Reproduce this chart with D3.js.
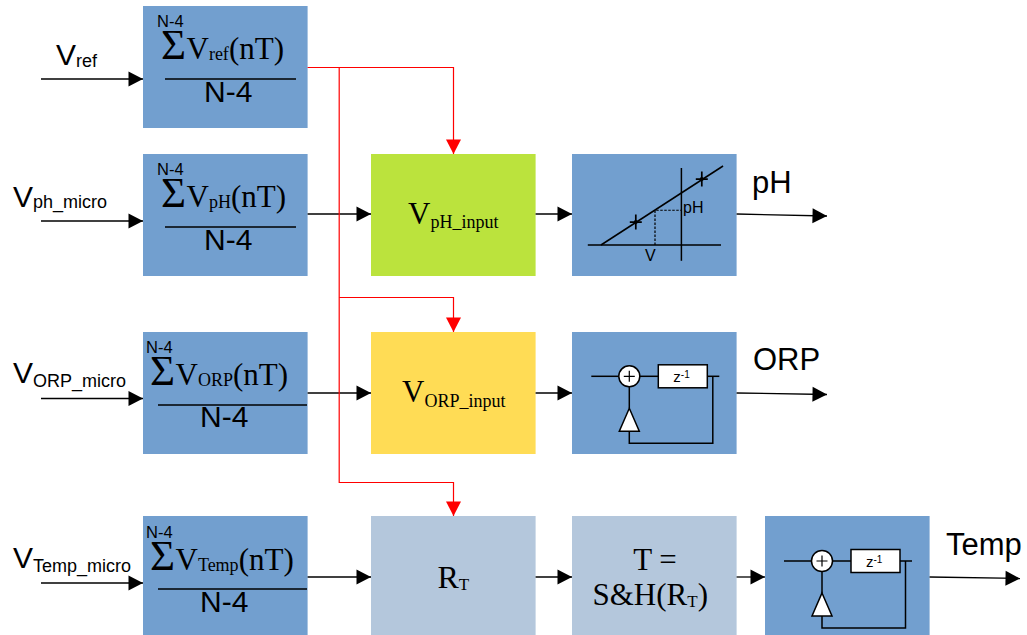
<!DOCTYPE html>
<html>
<head>
<meta charset="utf-8">
<script src="https://cdn.jsdelivr.net/npm/d3@7"></script>
<style>
    html, body { margin: 0; padding: 0; background: #fff; }
    svg { display: block; }
    .sans { font-family: "Liberation Sans", Arial, sans-serif; }
    .serif { font-family: "Liberation Serif", "Times New Roman", serif; }
</style>
</head>
<body>
<div id="diagram"></div>
<script>
// names of the grid lines the blocks sit on
const columns = ["average", "input", "process", "output"];
const rows = ["ref", "ph", "orp", "temp"];

// block: column, row, kind
const blockColumn = ["average", "average", "average", "average", "input", "input", "input", "process", "process", "process", "output"];
const blockRow = ["ref", "ph", "orp", "temp", "ph", "orp", "temp", "ph", "orp", "temp", "temp"];
const blockKind = ["dsp", "dsp", "dsp", "dsp", "ph", "orp", "calc", "dsp", "dsp", "calc", "dsp"];

// text
const inputNames = ["ref", "ph_micro", "ORP_micro", "Temp_micro"];
const averageNames = ["ref", "pH", "ORP", "Temp"];
const inputBlockNames = ["pH_input", "ORP_input"];
const outputNames = ["pH", "ORP", "Temp"];
const windowLabel = "N-4";

// calibration inset, in its own units
const calibrationLine = [[0, 0], [10.17, 10]];
const calibrationPoints = [[2.9, 2.9], [8.4, 8.35]];
const readingPoint = [4.5, 4.4];

const width = 1027, height = 635;
const svg = d3.select("#diagram").append("svg").attr("width", width).attr("height", height);

const x = d3.scaleOrdinal(columns, [143, 371, 572, 765]);
const y = d3.scaleOrdinal(rows, [6, 154, 332, 516]);
const blockFill = d3.scaleOrdinal(["dsp", "ph", "orp", "calc"], ["#729fcf", "#bbe33d", "#ffdc55", "#b4c7dc"]);
const blockWidth = 164.6, blockHeight = 122;

const indices = d3.range(blockColumn.length);

svg.append("g").selectAll("rect")
    .data(indices)
    .enter()
    .append("rect")
    .attr("x", (i) => x(blockColumn[i]))
    .attr("y", (i) => y(blockRow[i]))
    .attr("width", blockWidth)
    .attr("height", blockHeight)
    .attr("fill", (i) => blockFill(blockKind[i]));

const wires = svg.append("g").attr("fill", "none");
const heads = svg.append("g");
const labels = svg.append("g");
const line = d3.line();

function arrow(points, color, strokeWidth) {
    wires.append("path")
        .attr("d", line(points))
        .attr("stroke", color)
        .attr("stroke-width", strokeWidth);
    const [x1, y1] = points[points.length - 2];
    const [x2, y2] = points[points.length - 1];
    const angle = (Math.atan2(y2 - y1, x2 - x1) * 180) / Math.PI;
    heads.append("path")
        .attr("d", "M0,0L-14.5,-7.5L-14.5,7.5Z")
        .attr("fill", color)
        .attr("transform", `translate(${x2},${y2}) rotate(${angle})`);
}

// text made of [string, size, dy] runs
function richText(cls, tx, ty, runs) {
    const t = labels.append("text").attr("class", cls).attr("x", tx).attr("y", ty).attr("fill", "#000");
    runs.forEach((r) => {
        t.append("tspan").attr("font-size", r[1]).attr("dy", r[2] || 0).text(r[0]);
    });
    return t;
}

// signal names at the left
const inputBaseline = [65, 207, 383, 568];
const inputDrop = [2, 1, 4, 4];
const inputX = [56, 13, 13, 13];
inputNames.forEach((name, i) => {
    richText("sans", inputX[i], inputBaseline[i], [["V", 30], [name, 18, inputDrop[i]]]);
});

// input arrows
const inputArrowY = [79, 221, 398.5, 583];
inputArrowY.forEach((ay) => arrow([[41, ay], [x("average"), ay]], "#000", 1.3));

// averaging blocks
const sumLeft = [157, 157, 146, 146];
const sumTop = [26.5, 174.5, 352.5, 537.5];
const sumBase = [59, 207, 385, 570];
const barY = [79, 227, 405, 589];
const barLeft = [165, 165, 158, 158];
const barRight = [296, 296, 307, 307];
const divisorX = [204, 204, 200, 200];
const divisorBase = [102, 250, 427, 612];
averageNames.forEach((name, i) => {
    richText("sans", sumLeft[i], sumTop[i], [[windowLabel, 16.5]]);
    richText("serif", sumLeft[i] + 4, sumBase[i], [["Σ", 43]]);
    richText("serif", sumLeft[i] + 29.5, sumBase[i], [["V", 31], [name, 18, 1], ["(nT)", 31, -1]]);
    wires.append("path")
        .attr("d", line([[barLeft[i], barY[i]], [barRight[i], barY[i]]]))
        .attr("stroke", "#000")
        .attr("stroke-width", 1.6);
    richText("sans", divisorX[i], divisorBase[i], [[windowLabel, 30]]);
});

// black signal path between blocks
const signalY = [214, 393, 577];
signalY.forEach((sy) => {
    arrow([[x("average") + blockWidth, sy], [x("input"), sy]], "#000", 1.3);
    arrow([[x("input") + blockWidth, sy], [x("process"), sy]], "#000", 1.3);
});
arrow([[x("process") + blockWidth, signalY[2]], [x("output"), signalY[2]]], "#000", 1.3);

// outputs
arrow([[x("process") + blockWidth, signalY[0]], [827, signalY[0] + 2]], "#000", 1.3);
arrow([[x("process") + blockWidth, signalY[1]], [827, signalY[1] + 1.5]], "#000", 1.3);
arrow([[x("output") + blockWidth, signalY[2]], [1020, signalY[2] + 1.5]], "#000", 1.3);
const outputX = [752, 753, 946];
const outputBase = [193, 370, 555];
outputNames.forEach((name, i) => richText("sans", outputX[i], outputBase[i], [[name, 31]]));

// red reference distribution
const refY = 67.5, busX = 339.2, dropX = 453.5;
const orpBranchY = 297.5, tempBranchY = 482.5;
arrow([[x("average") + blockWidth, refY], [dropX, refY], [dropX, y("ph")]], "#ff0000", 1.2);
arrow([[busX, refY], [busX, tempBranchY], [dropX, tempBranchY], [dropX, y("temp")]], "#ff0000", 1.2);
arrow([[busX, orpBranchY], [dropX, orpBranchY], [dropX, y("orp")]], "#ff0000", 1.2);

// block captions
richText("serif", 408, 223.5, [["V", 31], [inputBlockNames[0], 18, 4.5]]);
richText("serif", 402, 402, [["V", 31], [inputBlockNames[1], 18, 4.5]]);
richText("serif", 437.5, 588, [["R", 32], ["T", 17, 2]]);
richText("serif", 655, 570, [["T =", 31]]).attr("text-anchor", "middle");
richText("serif", 592.5, 605, [["S&H(R", 31], ["T", 17, 2], [")", 31, -2]]);

// calibration inset
const calX = d3.scaleLinear().domain([0, 10]).range([601, 721]);
const calY = d3.scaleLinear().domain([0, 10]).range([245, 166]);
const inset = svg.append("g").attr("fill", "none").attr("stroke", "#000");
const calLine = d3.line().x((d) => calX(d[0])).y((d) => calY(d[1]));

inset.append("path").attr("stroke-width", 1.5).attr("d", calLine(calibrationLine));
inset.append("path").attr("stroke-width", 1.5).attr("d", calLine([[-1.1, 0], [10, 0]]));
inset.append("path").attr("stroke-width", 1.5).attr("d", calLine([[6.7, -2], [6.7, 9.75]]));
inset.append("path").attr("stroke-width", 1.2).attr("stroke-dasharray", "2.5,1.5")
    .attr("d", calLine([[readingPoint[0], 0], readingPoint, [6.7, readingPoint[1]]]));
calibrationPoints.forEach((p) => {
    inset.append("path").attr("stroke-width", 1.7)
        .attr("d", `M${calX(p[0]) - 6},${calY(p[1])}h12M${calX(p[0])},${calY(p[1]) - 7.5}v15`);
    inset.append("circle").attr("cx", calX(p[0])).attr("cy", calY(p[1])).attr("r", 2).attr("fill", "#000").attr("stroke", "none");
});
richText("sans", 683, 213, [["pH", 16]]);
richText("sans", 645, 261, [["V", 16]]);

// accumulator inset, used twice
function accumulator(cx, cy) {
    const g = svg.append("g").attr("transform", `translate(${cx},${cy})`)
        .attr("fill", "none").attr("stroke", "#000").attr("stroke-width", 1.5);
    g.append("path").attr("d", line([[-38, 0], [-10.5, 0]]));
    g.append("path").attr("d", line([[10.5, 0], [29, 0]]));
    g.append("path").attr("d", line([[78, 0], [90, 0]]));
    g.append("path").attr("d", line([[83.5, 0], [83.5, 67], [0, 67], [0, 55]]));
    g.append("path").attr("d", line([[0, 10.5], [0, 32]]));
    g.append("path").attr("fill", "#fff").attr("d", "M0,32L10,55L-10,55Z");
    g.append("circle").attr("r", 10.5).attr("fill", "#fff");
    g.append("path").attr("stroke-width", 1.2).attr("d", "M-5.5,0H5.5M0,-5.5V5.5");
    g.append("rect").attr("x", 29).attr("y", -11.5).attr("width", 49).attr("height", 23).attr("fill", "#fff");
    const z = g.append("text").attr("class", "sans").attr("x", 44).attr("y", 6)
        .attr("fill", "#000").attr("stroke", "none");
    z.append("tspan").attr("font-size", 15).text("z");
    z.append("tspan").attr("font-size", 10).attr("dy", -4).text("-1");
}
accumulator(629.3, 376.3);
accumulator(822, 561);
</script>
</body>
</html>
